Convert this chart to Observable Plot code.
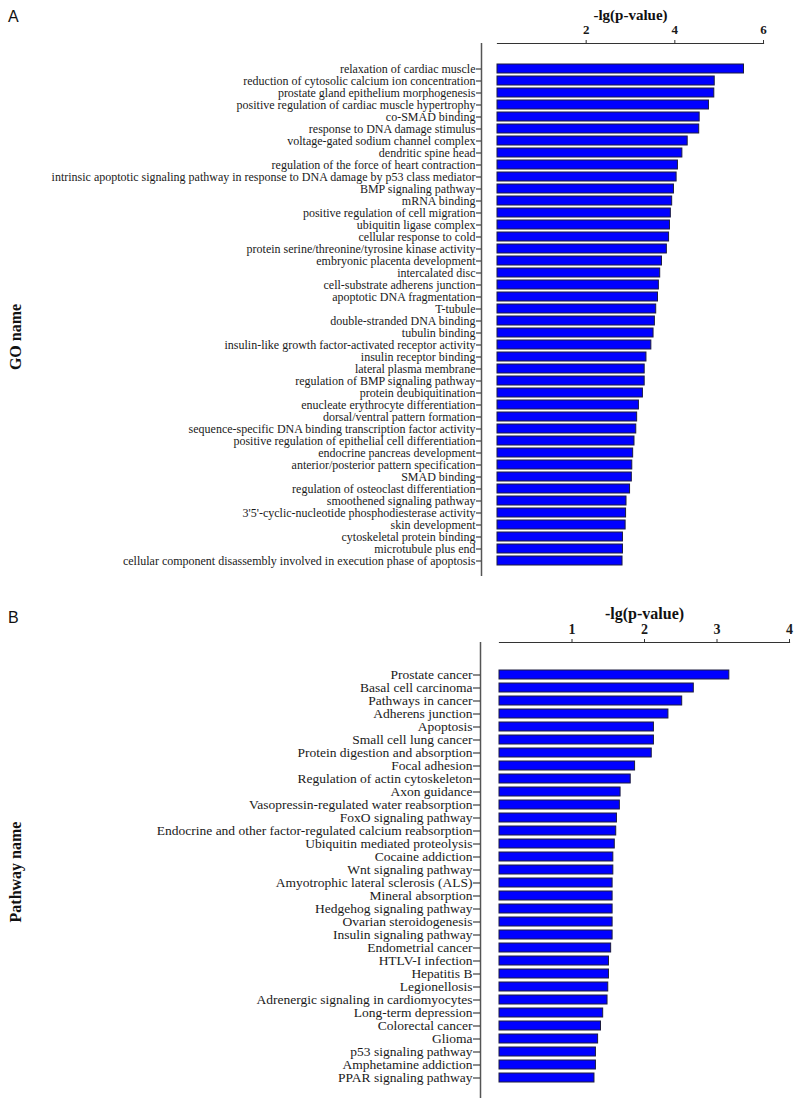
<!DOCTYPE html>
<html>
<head>
<meta charset="utf-8">
<script src="https://cdn.jsdelivr.net/npm/d3@7"></script>
<script src="https://cdn.jsdelivr.net/npm/@observablehq/plot@0.6"></script>
<style>
  body { margin: 0; background: #fff; }
  #wrap { position: relative; width: 800px; height: 1107px; overflow: hidden; background: #fff; }
  .panel { position: absolute; left: 0; z-index: 1; }
  .letter { position: absolute; z-index: 2; font-family: "Liberation Sans", Arial, sans-serif; font-size: 16px; color: #111; line-height: 1; }
  .ylab { position: absolute; z-index: 2; font-family: "Liberation Serif", serif; font-weight: bold; font-size: 16px; color: #111;
          white-space: nowrap; transform: translate(-50%, -50%) rotate(-90deg); line-height: 1; }
</style>
</head>
<body>
<div id="wrap">
  <div id="panelA" class="panel" style="top:0px;"></div>
  <div id="panelB" class="panel" style="top:590px;"></div>
  <div class="letter" style="left:8px;top:9px;">A</div>
  <div class="letter" style="left:8px;top:610px;">B</div>
  <div class="ylab" style="left:16px;top:337px;">GO name</div>
  <div class="ylab" style="left:16px;top:872px;">Pathway name</div>
</div>
<script>
// ---------- Data: panel A (GO terms) ----------
const goTerms = [
  "relaxation of cardiac muscle",
  "reduction of cytosolic calcium ion concentration",
  "prostate gland epithelium morphogenesis",
  "positive regulation of cardiac muscle hypertrophy",
  "co-SMAD binding",
  "response to DNA damage stimulus",
  "voltage-gated sodium channel complex",
  "dendritic spine head",
  "regulation of the force of heart contraction",
  "intrinsic apoptotic signaling pathway in response to DNA damage by p53 class mediator",
  "BMP signaling pathway",
  "mRNA binding",
  "positive regulation of cell migration",
  "ubiquitin ligase complex",
  "cellular response to cold",
  "protein serine/threonine/tyrosine kinase activity",
  "embryonic placenta development",
  "intercalated disc",
  "cell-substrate adherens junction",
  "apoptotic DNA fragmentation",
  "T-tubule",
  "double-stranded DNA binding",
  "tubulin binding",
  "insulin-like growth factor-activated receptor activity",
  "insulin receptor binding",
  "lateral plasma membrane",
  "regulation of BMP signaling pathway",
  "protein deubiquitination",
  "enucleate erythrocyte differentiation",
  "dorsal/ventral pattern formation",
  "sequence-specific DNA binding transcription factor activity",
  "positive regulation of epithelial cell differentiation",
  "endocrine pancreas development",
  "anterior/posterior pattern specification",
  "SMAD binding",
  "regulation of osteoclast differentiation",
  "smoothened signaling pathway",
  "3'5'-cyclic-nucleotide phosphodiesterase activity",
  "skin development",
  "cytoskeletal protein binding",
  "microtubule plus end",
  "cellular component disassembly involved in execution phase of apoptosis"
];
const goValues = [
  5.56, 4.90, 4.89, 4.77, 4.56, 4.55, 4.29, 4.17, 4.07, 4.04,
  3.98, 3.94, 3.91, 3.89, 3.87, 3.82, 3.71, 3.67, 3.64, 3.62,
  3.58, 3.55, 3.52, 3.47, 3.36, 3.32, 3.32, 3.28, 3.19, 3.15,
  3.13, 3.09, 3.06, 3.04, 3.03, 2.99, 2.91, 2.90, 2.89, 2.83,
  2.83, 2.82
];
const goTicks = [2, 4, 6];

// ---------- Data: panel B (pathways) ----------
const pathways = [
  "Prostate cancer",
  "Basal cell carcinoma",
  "Pathways in cancer",
  "Adherens junction",
  "Apoptosis",
  "Small cell lung cancer",
  "Protein digestion and absorption",
  "Focal adhesion",
  "Regulation of actin cytoskeleton",
  "Axon guidance",
  "Vasopressin-regulated water reabsorption",
  "FoxO signaling pathway",
  "Endocrine and other factor-regulated calcium reabsorption",
  "Ubiquitin mediated proteolysis",
  "Cocaine addiction",
  "Wnt signaling pathway",
  "Amyotrophic lateral sclerosis (ALS)",
  "Mineral absorption",
  "Hedgehog signaling pathway",
  "Ovarian steroidogenesis",
  "Insulin signaling pathway",
  "Endometrial cancer",
  "HTLV-I infection",
  "Hepatitis B",
  "Legionellosis",
  "Adrenergic signaling in cardiomyocytes",
  "Long-term depression",
  "Colorectal cancer",
  "Glioma",
  "p53 signaling pathway",
  "Amphetamine addiction",
  "PPAR signaling pathway"
];
const pathwayValues = [
  3.17, 2.68, 2.52, 2.33, 2.13, 2.13, 2.10, 1.87, 1.81, 1.67,
  1.66, 1.62, 1.61, 1.59, 1.57, 1.57, 1.56, 1.56, 1.56, 1.56,
  1.56, 1.54, 1.51, 1.51, 1.50, 1.49, 1.43, 1.40, 1.36, 1.33,
  1.33, 1.31
];
const pathwayTicks = [1, 2, 3, 4];

const axisTitle = "-lg(p-value)";
const barFill = "#0000ff";
const barStroke = "#1c1c40";
const serif = "Liberation Serif, Times New Roman, serif";

function panel({terms, values, ticks, xMax, width, height, marginLeft, marginRight, marginTop, marginBottom,
                yRange, pad, axisDx, yTickSize, yFont, xFont, xPad, titleFont, titleDy}) {
  const data = terms.map((t, i) => ({term: t, value: values[i]}));
  return Plot.plot({
    width, height, marginLeft, marginRight, marginTop, marginBottom,
    style: {fontFamily: serif, background: "transparent", color: "#1a1a1a", overflow: "visible"},
    x: {domain: [0, xMax]},
    y: {domain: terms, range: yRange, paddingInner: pad, paddingOuter: pad},
    marks: [
      Plot.barX(data, {x: "value", y: "term", fill: barFill, stroke: barStroke, strokeWidth: 1}),
      Plot.frame({anchor: "top", stroke: "#333", strokeWidth: 1.2}),
      Plot.ruleX([0], {dx: axisDx, stroke: "#555", strokeWidth: 1.5}),
      Plot.axisX({anchor: "top", ticks, tickFormat: d => String(d), tickSize: 4, tickPadding: xPad,
                  fontSize: xFont, fontWeight: "bold", fontFamily: serif, label: null, stroke: "#333"}),
      Plot.axisY({anchor: "left", dx: axisDx, tickSize: yTickSize, tickPadding: 1, fontSize: yFont,
                  fontFamily: serif, label: null}),
      Plot.text([axisTitle], {frameAnchor: "top", lineAnchor: "middle", dy: titleDy, fontSize: titleFont,
                              fontWeight: "bold", fontFamily: serif, fill: "#111"})
    ]
  });
}

document.getElementById("panelA").append(panel({
  terms: goTerms, values: goValues, ticks: goTicks, xMax: 6,
  width: 800, height: 590, marginLeft: 497, marginRight: 37, marginTop: 43, marginBottom: 14,
  yRange: [49.8, 577.9], pad: 0.28, axisDx: -16, yTickSize: 5, yFont: 12,
  xFont: 13, xPad: 6, titleFont: 15, titleDy: -28
}));

document.getElementById("panelB").append(panel({
  terms: pathways, values: pathwayValues, ticks: pathwayTicks, xMax: 4,
  width: 800, height: 517, marginLeft: 499, marginRight: 11, marginTop: 52, marginBottom: 9,
  yRange: [61.5, 510.7], pad: 0.3, axisDx: -19, yTickSize: 7, yFont: 13.5,
  xFont: 14, xPad: 5, titleFont: 16, titleDy: -29
}));
</script>
</body>
</html>
